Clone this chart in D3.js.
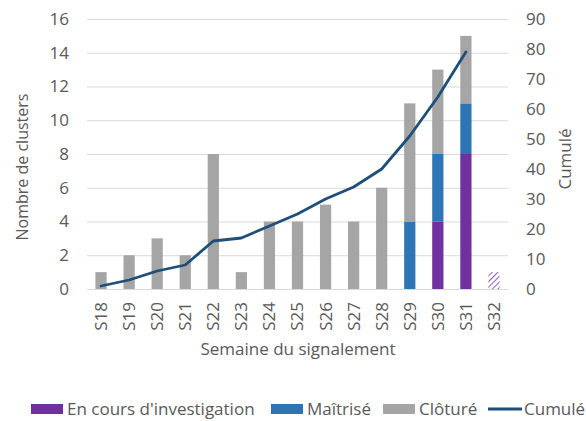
<!DOCTYPE html>
<html><head><meta charset="utf-8">
<script src="https://cdn.jsdelivr.net/npm/d3@7"></script>
<style>body{margin:0;background:#fff}svg{font-family:"Open Sans",sans-serif}</style>
</head><body><svg id="c" width="586" height="421"></svg>
<script>
const weeks = ["S18","S19","S20","S21","S22","S23","S24","S25","S26","S27","S28","S29","S30","S31","S32"];
const enCours = [0,0,0,0,0,0,0,0,0,0,0,0,4,8,1];
const maitrise = [0,0,0,0,0,0,0,0,0,0,0,4,4,3,0];
const cloture = [1,2,3,2,8,1,4,4,5,4,6,7,5,4,0];
const cumule = [1,3,6,8,16,17,21,25,30,34,40,51,64,79];
const leftTicks = [0,2,4,6,8,10,12,14,16];
const rightTicks = [0,10,20,30,40,50,60,70,80,90];
const hatchedWeek = "S32";

const colors = {enCours:"#7030a0", maitrise:"#2e75b6", cloture:"#a5a5a5", line:"#1f4e79"};
const FS = "17px";
const svg = d3.select("#c");
const m = {l:87, r:508, t:19, b:289};
const x = d3.scaleBand().domain(weeks).range([m.l,m.r]).paddingInner(0.6).paddingOuter(0.3);
const y = d3.scaleLinear().domain([0,16]).range([m.b,m.t]);
const y2 = d3.scaleLinear().domain([0,90]).range([m.b,m.t]);

const defs = svg.append("defs");
const pat = defs.append("pattern").attr("id","hatch").attr("patternUnits","userSpaceOnUse")
  .attr("width",4).attr("height",4).attr("patternTransform","rotate(45)");
pat.append("rect").attr("width",4).attr("height",4).attr("fill","#fff");
pat.append("line").attr("x1",0).attr("y1",0).attr("x2",0).attr("y2",4).attr("stroke",colors.enCours).attr("stroke-width",2.2).attr("opacity",0.75);

// grid
svg.append("g").selectAll("line").data(leftTicks).join("line")
  .attr("x1",m.l).attr("x2",m.r).attr("y1",d=>y(d)+0.5).attr("y2",d=>y(d)+0.5)
  .attr("stroke","#d9d9d9").attr("stroke-width",1);

// left axis
const ax = svg.append("g").attr("transform",`translate(69,0)`)
  .call(d3.axisLeft(y).tickValues(leftTicks).tickSize(0).tickPadding(0));
ax.select(".domain").remove();
ax.selectAll("text").attr("fill","#595959").style("font-size",FS).style("font-family","Open Sans");

const ax2 = svg.append("g").attr("transform",`translate(526,0)`)
  .call(d3.axisRight(y2).tickValues(rightTicks).tickSize(0).tickPadding(0));
ax2.select(".domain").remove();
ax2.selectAll("text").attr("fill","#595959").style("font-size",FS).style("font-family","Open Sans");

// bars
const series = [["enCours",enCours],["maitrise",maitrise],["cloture",cloture]];
const g = svg.append("g");
weeks.forEach((w,i)=>{
  let base = 0;
  series.forEach(([k,arr])=>{
    const v = arr[i];
    if(v>0){
      g.append("rect").attr("x",x(w)).attr("width",x.bandwidth())
        .attr("y",y(base+v)).attr("height",y(base)-y(base+v))
        .attr("fill", (w===hatchedWeek && k==="enCours") ? "url(#hatch)" : colors[k]);
    }
    base += v;
  });
});

// line
const line = d3.line().x((d,i)=>x(weeks[i])+x.bandwidth()/2).y(d=>y2(d));
svg.append("path").datum(cumule).attr("d",line).attr("fill","none")
  .attr("stroke",colors.line).attr("stroke-width",2.8).attr("stroke-linejoin","round").attr("stroke-linecap","round");

// x labels
const xa = svg.append("g").attr("transform",`translate(0,${m.b})`)
  .call(d3.axisBottom(x).tickSize(0).tickPadding(0));
xa.select(".domain").remove();
xa.selectAll("text").attr("fill","#595959").style("font-size",FS).style("font-family","Open Sans")
  .attr("transform","rotate(-90)").attr("text-anchor","end").attr("x",-13).attr("y",0).attr("dy","0.35em");

// titles
svg.append("text").attr("x",298).attr("y",355).attr("text-anchor","middle").attr("fill","#595959")
  .style("font-size",FS).text("Semaine du signalement");
svg.append("text").attr("transform","translate(28,167) rotate(-90)").attr("text-anchor","middle").attr("fill","#595959")
  .style("font-size","16px").text("Nombre de clusters");
svg.append("text").attr("transform","translate(571,159) rotate(-90)").attr("text-anchor","middle").attr("fill","#595959")
  .style("font-size",FS).text("Cumulé");

// legend
const leg = [
  {t:"En cours d'investigation", c:colors.enCours, type:"rect", x:31},
  {t:"Maîtrisé", c:colors.maitrise, type:"rect", x:271},
  {t:"Clôturé", c:colors.cloture, type:"rect", x:383},
  {t:"Cumulé", c:colors.line, type:"line", x:488}
];
const lg = svg.append("g");
leg.forEach(d=>{
  if(d.type==="rect") lg.append("rect").attr("x",d.x).attr("y",404).attr("width",32).attr("height",10).attr("fill",d.c);
  else lg.append("line").attr("x1",d.x).attr("x2",d.x+34).attr("y1",409).attr("y2",409).attr("stroke",d.c).attr("stroke-width",2.8);
  lg.append("text").attr("x",d.x+36).attr("y",415).attr("fill","#595959").style("font-size",FS).text(d.t);
});
</script></body></html>
